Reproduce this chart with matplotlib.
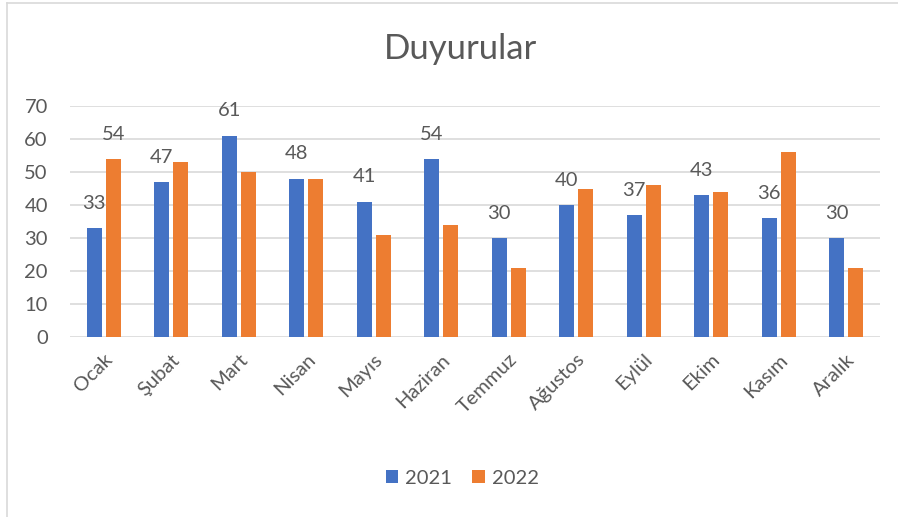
import matplotlib.pyplot as plt
import numpy as np
from matplotlib.lines import Line2D

months = ['Ocak', 'Şubat', 'Mart', 'Nisan', 'Mayıs', 'Haziran',
          'Temmuz', 'Ağustos', 'Eylül', 'Ekim', 'Kasım', 'Aralık']
vals_2021 = [33, 47, 61, 48, 41, 54, 30, 40, 37, 43, 36, 30]
vals_2022 = [54, 53, 50, 48, 31, 34, 21, 45, 46, 44, 56, 21]
# only one 2022 point carries a label in the original
labels_2022 = [54, None, None, None, None, None, None, None, None, None, None, None]

blue = '#4472C4'
orange = '#ED7D31'
grey = '#595959'
fs = 14.5

plt.rcParams['font.family'] = ['Lato', 'DejaVu Sans']

fig = plt.figure(figsize=(8.98, 5.17), dpi=100)
ax = fig.add_axes([0.078, 0.348, 0.902, 0.447])

x = np.arange(len(months))
w = 0.22
off = 0.142
ax.bar(x - off, vals_2021, w, color=blue, label='2021', zorder=3)
ax.bar(x + off, vals_2022, w, color=orange, label='2022', zorder=3)

# data labels sit well above the bar tops, as in the excel export
for i, v in enumerate(vals_2021):
    ax.text(x[i] - off, v + 7.5, str(v), ha='center', va='center', fontsize=fs, color=grey)
for i, v in enumerate(labels_2022):
    if v is not None:
        ax.text(x[i] + off, v + 7.5, str(v), ha='center', va='center', fontsize=fs, color=grey)

ax.set_ylim(0, 70)
ax.set_xlim(-0.5, len(months) - 0.5)
ax.set_yticks(range(0, 71, 10))
ax.yaxis.grid(True, color='#D9D9D9', linewidth=1.2, zorder=0)
ax.set_axisbelow(True)
for s in ax.spines.values():
    s.set_visible(False)
ax.tick_params(axis='both', length=0, colors=grey, labelsize=fs)
ax.tick_params(axis='y', pad=16)
ax.set_xticks(x)
ax.set_xticklabels(months, rotation=45, ha='right', va='top', rotation_mode='anchor')
ax.tick_params(axis='x', pad=10)

fig.text(0.513, 0.905, 'Duyurular', ha='center', va='center', fontsize=25, color=grey)

fig.legend(loc='center', bbox_to_anchor=(0.515, 0.075), ncol=2, frameon=False,
           fontsize=fs, labelcolor=grey, handlelength=0.6, handleheight=0.6,
           handletextpad=0.35, columnspacing=1.0)

# chart frame: only top and left edges show in the reference
fig.add_artist(Line2D([0.008, 0.008], [0.0, 0.995], transform=fig.transFigure,
                      color='#D9D9D9', linewidth=1.2))
fig.add_artist(Line2D([0.008, 1.0], [0.995, 0.995], transform=fig.transFigure,
                      color='#D9D9D9', linewidth=1.2))

fig.savefig('out.png', dpi=100)
